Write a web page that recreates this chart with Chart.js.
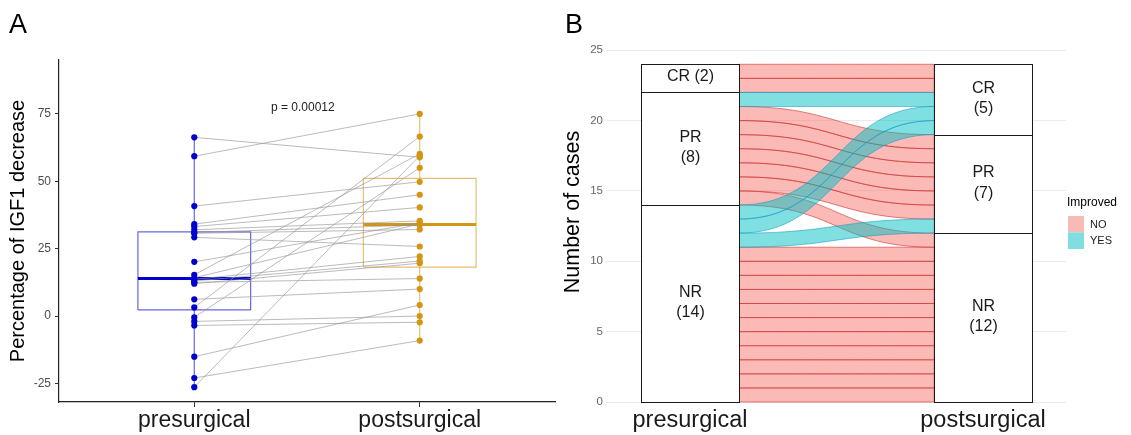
<!DOCTYPE html>
<html><head><meta charset="utf-8">
<script src="https://cdn.jsdelivr.net/npm/chart.js@4.4.1/dist/chart.umd.min.js"></script>
<style>
html,body{margin:0;padding:0;background:#fff;}
#wrap{position:relative;width:1131px;height:435px;overflow:hidden;font-family:"Liberation Sans",Arial,sans-serif;background:#fff;}
canvas{position:absolute;top:0;}
#cA{left:0;}
#cB{left:560px;}
.tag{position:absolute;font-size:27px;line-height:27px;color:#000;}
</style></head><body>
<div id="wrap">
<canvas id="cA" width="560" height="435"></canvas>
<canvas id="cB" width="571" height="435"></canvas>
<div class="tag" style="left:9px;top:11px">A</div>
<div class="tag" style="left:565px;top:11px">B</div>
</div>
<script>
// ---------- Panel A data ----------
const groups = ['presurgical', 'postsurgical'];
const preValues  = [66.3, 59.3, 40.8, 34.1, 33.2, 32.0, 31.0, 30.7, 29.2, 20.1, 15.3, 14.2, 13.6, 13.0, 12.5, 12.0, 6.2, 3.2, -0.5, -2.0, -3.5, -15.1, -23.0, -26.4];
const postValues = [58.9, 75.0, 49.8, 45.0, 40.3, 35.3, 33.8, 32.1, 25.8, 34.6, 60.2, 34.2, 22.1, 20.4, 13.9, 19.6, 10.0, 66.6, 55.0, 0.0, -2.3, 4.1, -9.1, 59.5];
const yTicksA = [-25, 0, 25, 50, 75];
const pLabel = 'p = 0.00012';
const yTitleA = 'Percentage of IGF1 decrease';

// ---------- Panel B data ----------
const stages = ['presurgical', 'postsurgical'];
const responseLevels = ['NR', 'PR', 'CR'];           // bottom to top
const preResponse  = ['NR','NR','NR','NR','NR','NR','NR','NR','NR','NR','NR','NR','NR','NR',
                      'PR','PR','PR','PR','PR','PR','PR','PR','CR','CR'];
const postResponse = ['NR','NR','NR','NR','NR','NR','NR','NR','NR','NR','NR','PR','CR','CR',
                      'NR','PR','PR','PR','PR','PR','PR','CR','CR','CR'];
const improvedLevels = ['NO', 'YES'];
const yTicksB = [0, 5, 10, 15, 20, 25];
const strataLabelsPre  = ['NR\n(14)', 'PR\n(8)', 'CR (2)'];
const strataLabelsPost = ['NR\n(12)', 'PR\n(7)', 'CR\n(5)'];
const yTitleB = 'Number of cases';
const legendTitle = 'Improved';

// ---------- styles ----------
const FONT = '"Liberation Sans", Arial, sans-serif';
const preColor = '#0000CD', postColor = '#D39514';
const preBox = 'rgba(0,0,205,0.6)', postBox = 'rgba(211,149,20,0.6)';
const flowFill = {NO: 'rgba(248,118,109,0.5)', YES: 'rgba(0,191,196,0.5)'};
const flowStroke = {NO: 'rgba(200,40,40,0.7)', YES: 'rgba(20,150,200,0.65)'};
const legendFill = {NO: '#F9B9B5', YES: '#7FDEE0'};

// ---------- Panel A ----------
function quantile7(arr, p) {
  const s = [...arr].sort((a, b) => a - b);
  const h = (s.length - 1) * p, lo = Math.floor(h);
  const hi = Math.min(lo + 1, s.length - 1);
  return s[lo] + (h - lo) * (s[hi] - s[lo]);
}
function boxDatasets(vals, cx, col, boxCol) {
  const q1 = quantile7(vals, 0.25), med = quantile7(vals, 0.5), q3 = quantile7(vals, 0.75);
  const iqr = q3 - q1;
  const inRange = vals.filter(v => v >= q1 - 1.5 * iqr && v <= q3 + 1.5 * iqr);
  const lo = Math.min(...inRange), hi = Math.max(...inRange);
  const hw = 0.25;
  const common = {showLine: true, pointRadius: 0, fill: false, borderJoinStyle: 'miter'};
  return [
    Object.assign({data: [{x: cx - hw, y: q1}, {x: cx + hw, y: q1}, {x: cx + hw, y: q3}, {x: cx - hw, y: q3}, {x: cx - hw, y: q1}],
      borderColor: boxCol, borderWidth: 1.2, order: 4}, common),
    Object.assign({data: [{x: cx, y: lo}, {x: cx, y: q1}], borderColor: boxCol, borderWidth: 1.2, order: 4}, common),
    Object.assign({data: [{x: cx, y: q3}, {x: cx, y: hi}], borderColor: boxCol, borderWidth: 1.2, order: 4}, common),
    Object.assign({data: [{x: cx - hw, y: med}, {x: cx + hw, y: med}], borderColor: col, borderWidth: 3, order: 3, borderCapStyle: 'butt'}, common)
  ];
}
const dsA = [];
dsA.push({data: preValues.map(v => ({x: 1, y: v})), pointRadius: 3.1, pointBackgroundColor: preColor, pointBorderWidth: 0, order: 0});
dsA.push({data: postValues.map(v => ({x: 2, y: v})), pointRadius: 3.1, pointBackgroundColor: postColor, pointBorderWidth: 0, order: 0});
preValues.forEach((v, i) => {
  dsA.push({data: [{x: 1, y: v}, {x: 2, y: postValues[i]}], showLine: true, pointRadius: 0,
    borderColor: 'rgba(150,150,150,0.65)', borderWidth: 1, order: 1});
});
dsA.push(...boxDatasets(preValues, 1, preColor, preBox));
dsA.push(...boxDatasets(postValues, 2, postColor, postBox));

const pPlugin = {
  id: 'pval',
  afterDatasetsDraw(chart) {
    const {ctx, scales: {x, y}} = chart;
    ctx.save();
    ctx.font = '12px ' + FONT;
    ctx.fillStyle = '#222';
    ctx.textAlign = 'left';
    ctx.textBaseline = 'middle';
    ctx.fillText(pLabel, x.getPixelForValue(1.34), y.getPixelForValue(77.4));
    ctx.restore();
  }
};

new Chart(document.getElementById('cA'), {
  type: 'scatter',
  data: {datasets: dsA},
  options: {
    responsive: false, animation: false, devicePixelRatio: 1,
    layout: {padding: {left: 0, right: 5, top: 60, bottom: 0}},
    plugins: {legend: {display: false}, tooltip: {enabled: false}},
    scales: {
      x: {
        type: 'linear', min: 0.4, max: 2.6,
        afterFit: s => { s.height = 33; },
        afterBuildTicks: s => { s.ticks = [1, 2].map(v => ({value: v})); },
        ticks: {callback: v => groups[v - 1], font: {family: FONT, size: 23}, color: '#1a1a1a', padding: 0, autoSkip: false, maxRotation: 0},
        grid: {drawOnChartArea: false, drawTicks: true, tickLength: 5, color: '#333', lineWidth: 1},
        border: {display: true, color: '#222', width: 1.2}
      },
      y: {
        type: 'linear', min: -31.9, max: 95,
        afterFit: s => { s.width = 59; },
        afterBuildTicks: s => { s.ticks = yTicksA.map(v => ({value: v})); },
        ticks: {font: {family: FONT, size: 12}, color: '#4d4d4d', padding: 4},
        grid: {drawOnChartArea: false, drawTicks: true, tickLength: 4, color: '#333', lineWidth: 1},
        border: {display: true, color: '#222', width: 1.2},
        title: {display: true, text: yTitleA, font: {family: FONT, size: 20}, color: '#000', padding: {top: 6, bottom: 0}}
      }
    }
  },
  plugins: [pPlugin]
});

// ---------- Panel B ----------
const rank = l => responseLevels.indexOf(l);
const nCases = preResponse.length;
const improved = preResponse.map((p, i) => rank(postResponse[i]) > rank(p) ? improvedLevels[1] : improvedLevels[0]);
const caseIdx = [...Array(nCases).keys()];
const preOrder = caseIdx.slice().sort((a, b) =>
  rank(preResponse[a]) - rank(preResponse[b]) || rank(postResponse[a]) - rank(postResponse[b]) || a - b);
const prePos = []; preOrder.forEach((c, k) => { prePos[c] = k; });
const postOrder = caseIdx.slice().sort((a, b) =>
  rank(postResponse[a]) - rank(postResponse[b]) || rank(preResponse[a]) - rank(preResponse[b]) || prePos[a] - prePos[b]);
const postPos = []; postOrder.forEach((c, k) => { postPos[c] = k; });

function strata(resp) {
  let cum = 0;
  return responseLevels.map(l => {
    const n = resp.filter(r => r === l).length;
    const s = {level: l, start: cum, end: cum + n};
    cum += n;
    return s;
  });
}
const strataPre = strata(preResponse), strataPost = strata(postResponse);
const stratumWidth = 1 / 3;

const alluvialPlugin = {
  id: 'alluvial',
  beforeDatasetsDraw(chart) {
    const {ctx, scales: {x, y}} = chart;
    const hw = stratumWidth / 2;
    const xL = x.getPixelForValue(1 + hw), xR = x.getPixelForValue(2 - hw);
    const xm = (xL + xR) / 2;
    ctx.save();
    const drawFlow = c => {
      const t0 = y.getPixelForValue(prePos[c] + 1), b0 = y.getPixelForValue(prePos[c]);
      const t1 = y.getPixelForValue(postPos[c] + 1), b1 = y.getPixelForValue(postPos[c]);
      ctx.beginPath();
      ctx.moveTo(xL, t0);
      ctx.bezierCurveTo(xm, t0, xm, t1, xR, t1);
      ctx.lineTo(xR, b1);
      ctx.bezierCurveTo(xm, b1, xm, b0, xL, b0);
      ctx.closePath();
      ctx.fillStyle = flowFill[improved[c]];
      ctx.fill();
      ctx.strokeStyle = flowStroke[improved[c]];
      ctx.lineWidth = 0.8;
      ctx.stroke();
    };
    caseIdx.filter(c => improved[c] === improvedLevels[0]).forEach(drawFlow);
    caseIdx.filter(c => improved[c] === improvedLevels[1]).forEach(drawFlow);

    const drawStrata = (list, cx, labels) => {
      const l = Math.round(x.getPixelForValue(cx - hw)) + 0.5, r = Math.round(x.getPixelForValue(cx + hw)) + 0.5;
      list.forEach((s, k) => {
        const top = Math.round(y.getPixelForValue(s.end)) + 0.5, bot = Math.round(y.getPixelForValue(s.start)) + 0.5;
        ctx.fillStyle = '#fff';
        ctx.fillRect(l, top, r - l, bot - top);
        ctx.strokeStyle = '#1a1a1a';
        ctx.lineWidth = 1;
        ctx.strokeRect(l, top, r - l, bot - top);
        const lines = labels[k].split('\n');
        const lh = 20.5;
        const cy = (top + bot) / 2 - 1.5;
        ctx.fillStyle = '#1a1a1a';
        ctx.font = '16px ' + FONT;
        ctx.textAlign = 'center';
        ctx.textBaseline = 'middle';
        lines.forEach((t, j) => {
          ctx.fillText(t, (l + r) / 2, cy + (j - (lines.length - 1) / 2) * lh);
        });
      });
    };
    drawStrata(strataPre, 1, strataLabelsPre);
    drawStrata(strataPost, 2, strataLabelsPost);
    ctx.restore();
  },
  afterDraw(chart) {
    const ctx = chart.ctx;
    ctx.save();
    // y title
    ctx.translate(13, 212);
    ctx.rotate(-Math.PI / 2);
    ctx.font = '21.5px ' + FONT;
    ctx.fillStyle = '#000';
    ctx.textAlign = 'center';
    ctx.textBaseline = 'middle';
    ctx.fillText(yTitleB, 0, 0);
    ctx.restore();
    // legend
    ctx.save();
    const lx = chart.chartArea.right + 2;
    ctx.font = '12px ' + FONT;
    ctx.fillStyle = '#000';
    ctx.textAlign = 'left';
    ctx.textBaseline = 'middle';
    ctx.fillText(legendTitle, lx - 1, 203);
    improvedLevels.forEach((lev, k) => {
      const ty = 216 + k * 16.5;
      ctx.fillStyle = legendFill[lev];
      ctx.fillRect(lx, ty, 16, 16.5);
      ctx.fillStyle = '#1a1a1a';
      ctx.font = '11px ' + FONT;
      ctx.fillText(lev, lx + 22, ty + 8.5);
    });
    ctx.restore();
  }
};

new Chart(document.getElementById('cB'), {
  type: 'scatter',
  data: {datasets: [{data: [], pointRadius: 0}]},
  options: {
    responsive: false, animation: false, devicePixelRatio: 1,
    layout: {padding: {left: 0, right: 65, top: 45, bottom: 0}},
    plugins: {legend: {display: false}, tooltip: {enabled: false}},
    scales: {
      x: {
        type: 'linear', min: 0.7133, max: 2.2833,
        afterFit: s => { s.height = 33; },
        afterBuildTicks: s => { s.ticks = [1, 2].map(v => ({value: v})); },
        ticks: {callback: v => stages[v - 1], font: {family: FONT, size: 23.5}, color: '#1a1a1a', padding: 4, autoSkip: false, maxRotation: 0},
        grid: {display: false, drawTicks: false},
        border: {display: false}
      },
      y: {
        type: 'linear', min: 0, max: 25.37,
        afterFit: s => { s.width = 46; },
        afterBuildTicks: s => { s.ticks = yTicksB.map(v => ({value: v})); },
        ticks: {font: {family: FONT, size: 11.5}, color: '#666', padding: 3},
        grid: {color: '#ebebeb', lineWidth: 1, drawTicks: false},
        border: {display: false}
      }
    }
  },
  plugins: [alluvialPlugin]
});
</script>
</body></html>
